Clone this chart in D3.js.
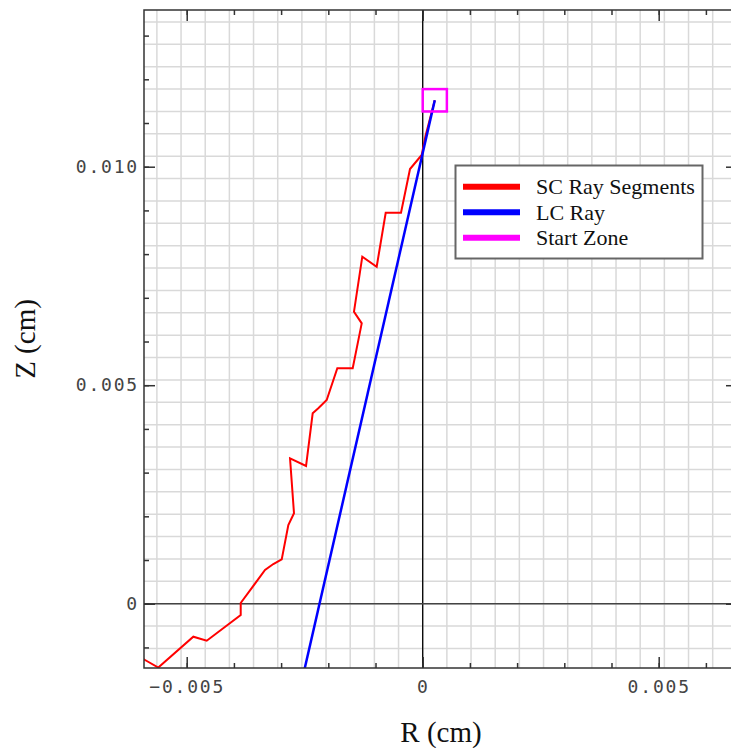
<!DOCTYPE html>
<html>
<head>
<meta charset="utf-8">
<script src="https://cdn.jsdelivr.net/npm/d3@7"></script>
<style>
  html, body { margin: 0; padding: 0; background: #fff; }
  svg { display: block; }
</style>
</head>
<body>
<svg id="chart" width="731" height="748"></svg>
<script>
// ---------- data ----------
// SC ray segments (R, Z) in cm
const scRayR = [-0.00620, -0.005883, -0.005602, -0.004860, -0.004576, -0.003856, -0.003856, -0.003341,
  -0.003165, -0.002987, -0.002847, -0.002727, -0.002811, -0.002472, -0.002331, -0.002212, -0.002034,
  -0.001809, -0.001483, -0.001292, -0.001456, -0.001280, -0.000975, -0.000784, -0.000460, -0.000269,
  -0.000021, 0.000059, 0.000256];
const scRayZ = [-0.001105, -0.001288, -0.001460, -0.000755, -0.000847, -0.000259, 0.000016, 0.000771,
  0.000908, 0.001016, 0.001801, 0.002069, 0.003327, 0.003151, 0.004357, 0.004471, 0.004661,
  0.005387, 0.005387, 0.006416, 0.006682, 0.007941, 0.007712, 0.008947, 0.008947, 0.009947,
  0.010268, 0.010702, 0.011520];
// LC ray (straight line from start zone centre)
const lcRayR = [0.000256, -0.002610];
const lcRayZ = [0.011520, -0.002000];
// Start zone bounds
const startZoneR = [0, 0.000512];
const startZoneZ = [0.011264, 0.011776];
// Zone grid spacing
const zoneSize = 0.000512;
// Axis domains
const rDomain = [-0.005905, 0.006659];
const zDomain = [-0.001471, 0.013586];
// Ticks
const rMajorTicks = [-0.005, 0, 0.005];
const rMinorTicks = [-0.005, -0.004, -0.003, -0.002, -0.001, 0, 0.001, 0.002, 0.003, 0.004, 0.005, 0.006];
const zMajorTicks = [0, 0.005, 0.010];
const zMinorTicks = [-0.001, 0, 0.001, 0.002, 0.003, 0.004, 0.005, 0.006, 0.007, 0.008, 0.009, 0.010, 0.011, 0.012, 0.013];
const legendLabels = ["SC Ray Segments", "LC Ray", "Start Zone"];
const legendColors = ["#ff0000", "#0000ff", "#ff00ff"];

// ---------- layout ----------
const L = 144, R = 737, T = 10, B = 668;
const svg = d3.select("#chart");
const x = d3.scaleLinear().domain(rDomain).range([L, R]);
const y = d3.scaleLinear().domain(zDomain).range([B, T]);

svg.append("rect").attr("width", 731).attr("height", 748).attr("fill", "#fff");

svg.append("defs").append("clipPath").attr("id", "plotclip")
  .append("rect").attr("x", L).attr("y", T).attr("width", R - L).attr("height", B - T);

const plot = svg.append("g").attr("clip-path", "url(#plotclip)");

// zone grid
const gridR = d3.range(Math.ceil(rDomain[0] / zoneSize), Math.floor(rDomain[1] / zoneSize) + 1).map(k => k * zoneSize);
const gridZ = d3.range(Math.ceil(zDomain[0] / zoneSize), Math.floor(zDomain[1] / zoneSize) + 1).map(k => k * zoneSize);
plot.selectAll("line.gv").data(gridR).join("line")
  .attr("x1", d => x(d)).attr("x2", d => x(d)).attr("y1", T).attr("y2", B)
  .attr("stroke", "#d9d9d9").attr("stroke-width", 1.5);
plot.selectAll("line.gh").data(gridZ).join("line")
  .attr("y1", d => y(d)).attr("y2", d => y(d)).attr("x1", L).attr("x2", R)
  .attr("stroke", "#d9d9d9").attr("stroke-width", 1.5);

// zero lines
plot.append("line").attr("x1", x(0)).attr("x2", x(0)).attr("y1", T).attr("y2", B)
  .attr("stroke", "#000").attr("stroke-width", 1.3);
plot.append("line").attr("y1", y(0)).attr("y2", y(0)).attr("x1", L).attr("x2", R)
  .attr("stroke", "#444").attr("stroke-width", 1.5);

const line = d3.line().x(d => x(d[0])).y(d => y(d[1]));

// SC ray
plot.append("path").datum(scRayR.map((r, i) => [r, scRayZ[i]]))
  .attr("d", line).attr("fill", "none").attr("stroke", "#ff0000")
  .attr("stroke-width", 2).attr("stroke-linejoin", "miter");

// LC ray
plot.append("path").datum(lcRayR.map((r, i) => [r, lcRayZ[i]]))
  .attr("d", line).attr("fill", "none").attr("stroke", "#0000ff").attr("stroke-width", 2.5);

// start zone
plot.append("rect")
  .attr("x", x(startZoneR[0])).attr("y", y(startZoneZ[1]))
  .attr("width", x(startZoneR[1]) - x(startZoneR[0]))
  .attr("height", y(startZoneZ[0]) - y(startZoneZ[1]))
  .attr("fill", "none").attr("stroke", "#ff00ff").attr("stroke-width", 2.5);

// ---------- axes ----------
const fmt = d => d === 0 ? "0" : d3.format(".3f")(d);
const tickColor = "#333";
function styleAxis(g, labels) {
  g.select(".domain").remove();
  g.selectAll(".tick line").attr("stroke", tickColor).attr("stroke-width", 1.5);
  g.selectAll(".tick text")
    .attr("font-family", "'DejaVu Sans Mono', monospace")
    .attr("font-size", 18).attr("letter-spacing", "1.8px").attr("fill", "#444");
  if (!labels) g.selectAll(".tick text").remove();
}
// minor ticks
svg.append("g").attr("transform", `translate(0,${B})`)
  .call(d3.axisBottom(x).tickValues(rMinorTicks).tickSize(-5).tickFormat(""))
  .call(g => styleAxis(g, false));
svg.append("g").attr("transform", `translate(0,${T})`)
  .call(d3.axisTop(x).tickValues(rMinorTicks).tickSize(-5).tickFormat(""))
  .call(g => styleAxis(g, false));
svg.append("g").attr("transform", `translate(${L},0)`)
  .call(d3.axisLeft(y).tickValues(zMinorTicks).tickSize(-5).tickFormat(""))
  .call(g => styleAxis(g, false));
svg.append("g").attr("transform", `translate(${R},0)`)
  .call(d3.axisRight(y).tickValues(zMinorTicks).tickSize(-5).tickFormat(""))
  .call(g => styleAxis(g, false));
// major ticks
svg.append("g").attr("transform", `translate(0,${B})`)
  .call(d3.axisBottom(x).tickValues(rMajorTicks).tickSize(-11).tickPadding(12).tickFormat(fmt))
  .call(g => styleAxis(g, true));
svg.append("g").attr("transform", `translate(0,${T})`)
  .call(d3.axisTop(x).tickValues(rMajorTicks).tickSize(-11).tickFormat(""))
  .call(g => styleAxis(g, false));
svg.append("g").attr("transform", `translate(${L},0)`)
  .call(d3.axisLeft(y).tickValues(zMajorTicks).tickSize(-11).tickPadding(5).tickFormat(fmt))
  .call(g => styleAxis(g, true));
svg.append("g").attr("transform", `translate(${R},0)`)
  .call(d3.axisRight(y).tickValues(zMajorTicks).tickSize(-11).tickFormat(""))
  .call(g => styleAxis(g, false));

// frame
svg.append("rect").attr("x", L).attr("y", T).attr("width", R - L).attr("height", B - T)
  .attr("fill", "none").attr("stroke", "#333").attr("stroke-width", 1.5);

// axis titles
svg.append("text").attr("x", 441).attr("y", 742)
  .attr("text-anchor", "middle").attr("font-family", "'Liberation Serif', serif")
  .attr("font-size", 29).attr("fill", "#111").text("R (cm)");
svg.append("text").attr("transform", "translate(35,339) rotate(-90)")
  .attr("text-anchor", "middle").attr("font-family", "'Liberation Serif', serif")
  .attr("font-size", 29).attr("fill", "#111").text("Z (cm)");

// legend
const lg = svg.append("g");
lg.append("rect").attr("x", 455.5).attr("y", 165.5).attr("width", 247).attr("height", 93)
  .attr("fill", "#fff").attr("stroke", "#666").attr("stroke-width", 2);
const rows = lg.selectAll("g.row").data(legendLabels).join("g")
  .attr("transform", (d, i) => `translate(0,${186.7 + i * 25.5})`);
rows.append("line").attr("x1", 463).attr("x2", 520).attr("y1", 0).attr("y2", 0)
  .attr("stroke", (d, i) => legendColors[i]).attr("stroke-width", 6);
rows.append("text").attr("x", 536).attr("y", 7.6)
  .attr("font-family", "'Liberation Serif', serif").attr("font-size", 22).attr("fill", "#111")
  .text(d => d);
</script>
</body>
</html>
